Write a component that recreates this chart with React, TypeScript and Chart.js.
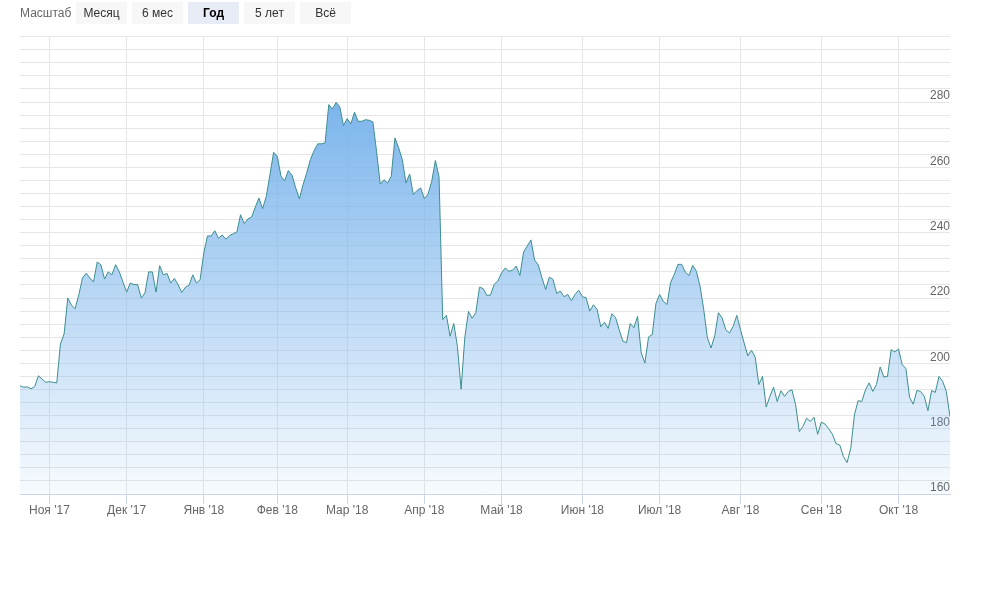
import React, { useEffect, useRef } from "react";
import { Chart, registerables } from "chart.js";

Chart.register(...registerables);

// Daily closing prices (trading days)
const prices: number[] = [
  193.1, 192.7, 192.8, 192.2, 192.9, 196.2, 195.2, 194.2, 194.4, 194.2,
  194.0, 205.9, 209.0, 220.0, 217.8, 216.7, 221.0, 226.1, 227.6, 226.1,
  224.9, 231.0, 230.2, 225.8, 228.0, 227.1, 230.2, 228.1, 224.9, 221.8,
  224.6, 224.1, 224.1, 220.0, 221.6, 228.0, 228.0, 221.8, 229.9, 227.1,
  227.5, 224.6, 226.0, 224.1, 221.7, 223.3, 223.9, 227.1, 224.6, 225.6,
  233.8, 239.0, 239.0, 240.6, 238.3, 239.3, 238.0, 239.1, 239.7, 240.2,
  245.5, 242.8, 244.2, 244.8, 247.8, 250.6, 247.4, 251.1, 257.8, 264.6,
  263.4, 257.3, 255.9, 259.0, 257.6, 253.7, 250.4, 254.7, 258.3, 262.4,
  265.1, 267.2, 267.2, 267.5, 279.2, 277.9, 279.9, 278.5, 272.8, 274.9,
  273.3, 276.9, 274.1, 274.1, 274.6, 274.4, 273.9, 264.9, 254.9, 256.2,
  255.2, 257.3, 269.0, 266.0, 262.4, 255.2, 258.0, 251.7, 252.9, 253.7,
  250.4, 251.8, 255.7, 262.1, 257.1, 213.4, 214.7, 208.3, 212.2, 205.2,
  192.1, 207.8, 215.9, 213.8, 215.5, 223.3, 222.9, 220.8, 220.9, 224.2,
  225.2, 227.7, 229.2, 228.2, 228.5, 229.8, 226.9, 234.1, 235.9, 237.8,
  231.6, 230.1, 226.2, 222.6, 226.4, 225.7, 221.4, 222.1, 220.4, 221.1,
  219.2, 221.1, 222.4, 220.4, 220.1, 216.0, 217.9, 216.5, 211.2, 212.6,
  210.7, 215.2, 214.1, 210.3, 206.8, 206.3, 212.2, 210.9, 214.4, 203.2,
  200.1, 208.1, 208.8, 218.3, 221.1, 219.0, 218.0, 224.8, 227.2, 230.3,
  230.3, 227.9, 226.9, 230.0, 228.2, 223.6, 216.5, 207.8, 204.7, 208.5,
  215.5, 213.9, 210.3, 209.3, 211.3, 214.7, 210.3, 206.2, 202.3, 204.0,
  201.9, 193.5, 196.0, 186.6, 189.9, 192.7, 188.3, 191.6, 189.9, 191.4,
  191.9, 187.3, 179.1, 180.7, 183.2, 182.2, 183.5, 178.3, 182.0, 181.4,
  180.0, 178.3, 175.4, 175.0, 171.5, 169.6, 174.0, 184.2, 188.6, 188.3,
  191.9, 194.0, 191.4, 193.5, 198.9, 195.8, 196.0, 204.2, 203.5, 204.4,
  199.6, 198.4, 189.6, 187.5, 191.7, 191.4, 189.9, 185.5, 191.7, 191.1,
  196.0, 194.5, 191.4, 183.7,
];

// First trading day of each month (point index) and its label
const monthIndex: number[] = [8, 29, 50, 70, 89, 110, 131, 153, 174, 196, 218, 239];
const monthLabels: string[] = [
  "Ноя '17", "Дек '17", "Янв '18", "Фев '18", "Мар '18", "Апр '18",
  "Май '18", "Июн '18", "Июл '18", "Авг '18", "Сен '18", "Окт '18",
];

// Y axis
const yMin = 160;
const yMax = 300;
const yStep = 4;
const yLabelStep = 20;

const rangeLabel = "Масштаб";
const rangeButtons: string[] = ["Месяц", "6 мес", "Год", "5 лет", "Всё"];
const activeButton = "Год";

const FONT = "'Liberation Sans', Arial, Helvetica, sans-serif";

export default function App() {
  const canvasRef = useRef<HTMLCanvasElement | null>(null);

  useEffect(() => {
    if (!canvasRef.current) return;
    const points = prices.map((v, i) => ({ x: i, y: v }));
    const maxVal = Math.max(...prices);
    const chart = new Chart(canvasRef.current, {
      type: "line",
      data: {
        datasets: [
          {
            data: points,
            borderColor: "#3d8e8f",
            borderWidth: 1,
            pointRadius: 0,
            tension: 0,
            fill: "start",
            backgroundColor: (ctx: any) => {
              const c = ctx.chart;
              const area = c.chartArea;
              if (!area) return "rgba(124,181,236,0.5)";
              const top = c.scales.y.getPixelForValue(maxVal);
              const g = c.ctx.createLinearGradient(0, top, 0, area.bottom);
              g.addColorStop(0, "rgba(124,181,236,1)");
              g.addColorStop(1, "rgba(124,181,236,0.06)");
              return g;
            },
          },
        ],
      },
      options: {
        responsive: false,
        animation: false,
        layout: { padding: { left: 20, top: 36.7, right: 54, bottom: 13.6 } },
        plugins: {
          legend: { display: false },
          tooltip: { enabled: false },
        },
        scales: {
          x: {
            type: "linear",
            min: 0,
            max: prices.length - 1,
            afterBuildTicks: (scale: any) => {
              scale.ticks = monthIndex.map((v) => ({ value: v }));
            },
            ticks: {
              autoSkip: false,
              maxRotation: 0,
              padding: -1,
              color: "#666666",
              font: { family: FONT, size: 12 },
              callback: (_v: any, i: number) => monthLabels[i],
            },
            grid: {
              color: "#e6e6e6",
              tickColor: "#ccd6eb",
              tickLength: 10,
              drawTicks: true,
            },
            border: { color: "#ccd6eb" },
          },
          y: {
            position: "right",
            min: yMin,
            max: yMax,
            ticks: {
              stepSize: yStep,
              maxTicksLimit: 100,
              autoSkip: false,
              mirror: true,
              padding: 0,
              labelOffset: -6,
              color: "#666666",
              font: { family: FONT, size: 12 },
              callback: (v: any) =>
                Number(v) % yLabelStep === 0 && Number(v) < yMax ? String(v) : "",
            },
            grid: { color: "#e6e6e6", drawTicks: false },
            border: { display: false },
          },
        },
      },
    } as any);
    return () => chart.destroy();
  }, []);

  const btnLeft = [76, 132, 188, 244, 300];

  return (
    <div
      style={{
        position: "fixed",
        left: 0,
        top: 0,
        width: 1004,
        height: 600,
        background: "#ffffff",
        fontFamily: FONT,
        overflow: "hidden",
      }}
    >
      <canvas
        ref={canvasRef}
        width={1004}
        height={530}
        style={{ position: "absolute", left: 0, top: 0, width: 1004, height: 530 }}
      />
      <div
        style={{
          position: "absolute",
          left: 20,
          top: 2,
          height: 22,
          lineHeight: "22px",
          fontSize: 12,
          color: "#666666",
        }}
      >
        {rangeLabel}
      </div>
      {rangeButtons.map((b, i) => (
        <div
          key={b}
          style={{
            position: "absolute",
            left: btnLeft[i],
            top: 2,
            width: 51,
            height: 22,
            lineHeight: "22px",
            textAlign: "center",
            fontSize: 12,
            background: b === activeButton ? "#e6ebf5" : "#f7f7f7",
            color: b === activeButton ? "#000000" : "#333333",
            fontWeight: b === activeButton ? "bold" : "normal",
          }}
        >
          {b}
        </div>
      ))}
    </div>
  );
}
